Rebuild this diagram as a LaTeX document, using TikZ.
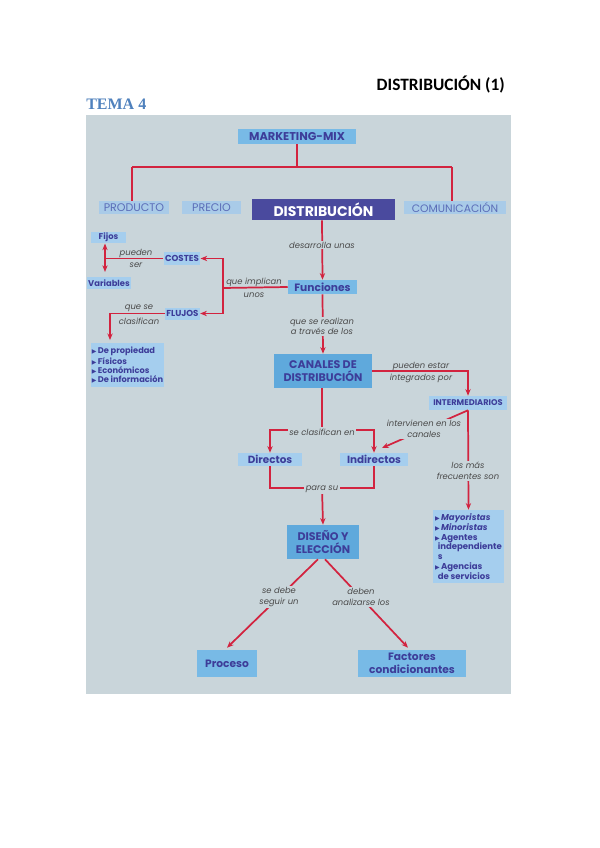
\documentclass[tikz,border=0pt]{standalone}
\usepackage{fontspec}
\setmainfont{Poppins}
\newfontfamily\hdr{Carlito}
\newfontfamily\tema{Liberation Serif}
\newfontfamily\dv{DejaVu Sans}
\usetikzlibrary{arrows.meta,calc}
\definecolor{bg}{HTML}{C9D5DA}
\definecolor{redl}{HTML}{D2233F}
\definecolor{txb}{HTML}{3D3D99}
\definecolor{txl}{HTML}{5B6DB8}
\definecolor{lblg}{HTML}{4A4A4A}
\definecolor{bfaint}{HTML}{A9CBE8}
\definecolor{blight}{HTML}{A5CEEE}
\definecolor{bmid}{HTML}{78BAE6}
\definecolor{bdark}{HTML}{5FA9DC}
\definecolor{indigo}{HTML}{4A4A9E}
\definecolor{temablue}{HTML}{4F81BD}
\newcommand\bul{{\dv\fontsize{4.5}{5}\selectfont ▶}\,}
\tikzset{
  sz/.style 2 args={minimum width=#1*0.75pt, minimum height=#2*0.75pt},
  bx/.style={fill=#1, text=txb, inner sep=1pt, font=\fontsize{8}{9.5}\selectfont\bfseries, align=center},
  ln/.style={draw=redl, line width=1.3pt},
  arr/.style={ln, -{Stealth[length=5pt,width=4pt]}},
  lbl/.style={font=\fontsize{6.3}{8}\selectfont\itshape, text=lblg, align=center, inner sep=1pt},
  lblf/.style={lbl, fill=bg}
}
\begin{document}
\begin{tikzpicture}[x=0.75pt,y=-0.75pt]
\useasboundingbox (0,0) rectangle (599,848);
\fill[white] (0,0) rectangle (599,848);
\fill[bg] (86,115) rectangle (511,694);
% header
\node[anchor=east, inner sep=0pt, font=\hdr\bfseries\fontsize{13}{15}\selectfont, text=black] (H) at (505,85) {DISTRIBUCIÓN (1)};
\node[anchor=west, inner sep=0pt, font=\tema\bfseries\fontsize{12}{14}\selectfont, text=temablue] (T) at (86,104) {TEMA 4};
% nodes
\node[bx=bmid, sz={118}{15}, font=\fontsize{8.5}{10}\selectfont\bfseries] (MM) at (297,136.5) {MARKETING-MIX};
\node[bx=bfaint, sz={70}{13}, text=txl, font=\fontsize{8.3}{9}\selectfont] (PROD) at (134,207.5) {PRODUCTO};
\node[bx=bfaint, sz={59}{13}, text=txl, font=\fontsize{8.3}{9}\selectfont] (PREC) at (211.5,207.5) {PRECIO};
\node[bx=indigo, sz={143}{21}, text=white, font=\fontsize{10.5}{12}\selectfont\bfseries] (DIST) at (323.5,209.5) {DISTRIBUCIÓN};
\node[bx=bfaint, sz={102}{13}, text=txl, font=\fontsize{8.1}{9}\selectfont] (COM) at (455,207.5) {COMUNICACIÓN};
\node[bx=bmid, sz={69}{14}] (FUN) at (322.5,287) {Funciones};
\node[bx=blight, sz={34}{13}, font=\fontsize{6.5}{8}\selectfont\bfseries] (COS) at (182,258.5) {COSTES};
\node[bx=blight, sz={34}{12}, font=\fontsize{6.5}{8}\selectfont\bfseries] (FLU) at (182.5,313.5) {FLUJOS};
\node[bx=blight, sz={35}{11}, font=\fontsize{6.3}{7}\selectfont\bfseries] (FIJ) at (108.5,237.5) {Fijos};
\node[bx=blight, sz={40}{11}, font=\fontsize{6.3}{7}\selectfont\bfseries] (VAR) at (109,283) {Variables};
\node[bx=blight, sz={71}{44}, align=left, font=\fontsize{6.2}{6.75}\selectfont\bfseries] (LL) at (127.5,365) {\bul De propiedad\\\bul Físicos\\\bul Económicos\\\bul De información};
\node[bx=bdark, sz={98}{34}, font=\fontsize{8.3}{10}\selectfont\bfseries] (CAN) at (323,371) {CANALES DE\\DISTRIBUCIÓN};
\node[bx=blight, sz={78}{14}, font=\fontsize{6.2}{7}\selectfont\bfseries] (INT) at (468,403) {INTERMEDIARIOS};
\node[bx=blight, sz={64}{13}, font=\fontsize{7.8}{9}\selectfont\bfseries] (DIR) at (270,459.5) {Directos};
\node[bx=blight, sz={68}{13}, font=\fontsize{7.8}{9}\selectfont\bfseries] (IND) at (374,459.5) {Indirectos};
\node[bx=bdark, sz={72}{34}, font=\fontsize{8.3}{10}\selectfont\bfseries] (DIS) at (323,542) {DISEÑO Y\\ELECCIÓN};
\node[bx=blight, sz={71}{73}, align=left, font=\fontsize{6.4}{7.3}\selectfont\bfseries] (LR) at (468.5,546.5) {\bul\textit{Mayoristas}\\\bul\textit{Minoristas}\\\bul Agentes\\\hspace*{2pt}independiente\\\hspace*{2pt}s\\\bul Agencias\\\hspace*{2pt}de servicios};
\node[bx=bmid, sz={60}{27}] (PRO) at (227,663.5) {Proceso};
\node[bx=bmid, sz={108}{27}, font=\fontsize{8}{10}\selectfont\bfseries] (FAC) at (412,663.5) {Factores\\condicionantes};
% top bus
\coordinate (busL) at (132,167);
\coordinate (busR) at (452,167);
\draw[ln] (busL) -- (busR);
\draw[ln] (MM.south) -- (MM.south |- busL);
\draw[ln] (busL) -- (busL |- PROD.north);
\draw[ln] ($(PREC.north)+(-4.5,0)$ |- busL) -- ($(PREC.north)+(-4.5,0)$);
\draw[ln] ($(DIST.north)+(-1.5,0)$ |- busL) -- ($(DIST.north)+(-1.5,0)$);
\draw[ln] (busR) -- (busR |- COM.north);
% distribucion -> funciones
\draw[arr] ($(DIST.south)+(-1.5,0)$) -- (FUN.north);
\node[lblf] (l1) at (322,245) {desarrolla unas};
% funciones -> costes / flujos
\coordinate (brk) at (223,288);
\draw[ln] (FUN.west) -- (brk);
\draw[arr] (brk) |- (COS.east);
\draw[arr] (brk) |- (FLU.east);
\node[lbl] (l2) at (254,282.5) {que implican};
\node[lbl] (l3) at (254,295) {unos};
% costes -> fijos / variables
\coordinate (jn) at (105,258.5);
\draw[ln] (COS.west) -- (jn);
\draw[arr] (jn) -- (jn |- FIJ.south);
\draw[arr, shorten >=4pt] (jn) -- (jn |- VAR.north);
\node[lbl] (l4) at (136,253) {pueden};
\node[lbl] (l5) at (136,265) {ser};
% flujos -> lista
\draw[arr, shorten >=2pt] (FLU.west) -| ($(LL.north)+(-17.5,0)$);
\node[lbl] (l6) at (139,308.5) {que se};
\node[lbl] (l7) at (139,321) {clasifican};
% funciones -> canales
\draw[arr] (FUN.south) -- (CAN.north);
\node[lblf] (l8) at (322,326.5) {que se realizan\\a través de los};
% canales -> intermediarios
\draw[arr] (CAN.east) -| (INT.north);
\node[lbl] (l9) at (421,366) {pueden estar};
\node[lbl] (l10) at (421,378) {integrados por};
% canales -> directos / indirectos
\coordinate (sc) at (322,430);
\draw[ln] ($(CAN.south)+(-1,0)$) -- (sc);
\draw[arr] (sc) -| (DIR.north);
\draw[arr] (sc) -| (IND.north);
\node[lblf] (l11) at (322,432) {se clasifican en};
% directos / indirectos -> diseno
\coordinate (ps) at (322,488);
\draw[ln] (DIR.south) |- (ps) -| (IND.south);
\draw[arr] (ps) -- (DIS.north);
\node[lblf] (l12) at (322,489) {para su};
% intermediarios -> lista / indirectos
\draw[arr] (INT.south) -- (LR.north);
\node[lblf] (l13) at (468,471) {los más\\frecuentes son};
\coordinate (indtip) at (382,448);
\draw[arr] (INT.south) -- (indtip);
\node[lblf] (l14) at (424,429) {intervienen en los\\canales};
% diseno -> proceso / factores
\draw[arr] ($(DIS.south)+(-5,0)$) -- ($(PRO.north)+(0,-2)$);
\draw[arr] ($(DIS.south)+(2,0)$) -- ($(FAC.north)+(-4,-2)$);
\node[lblf] (l15) at (279,597) {se debe\\seguir un};
\node[lblf] (l16) at (361,597) {deben\\analizarse los};
\end{tikzpicture}
\end{document}
